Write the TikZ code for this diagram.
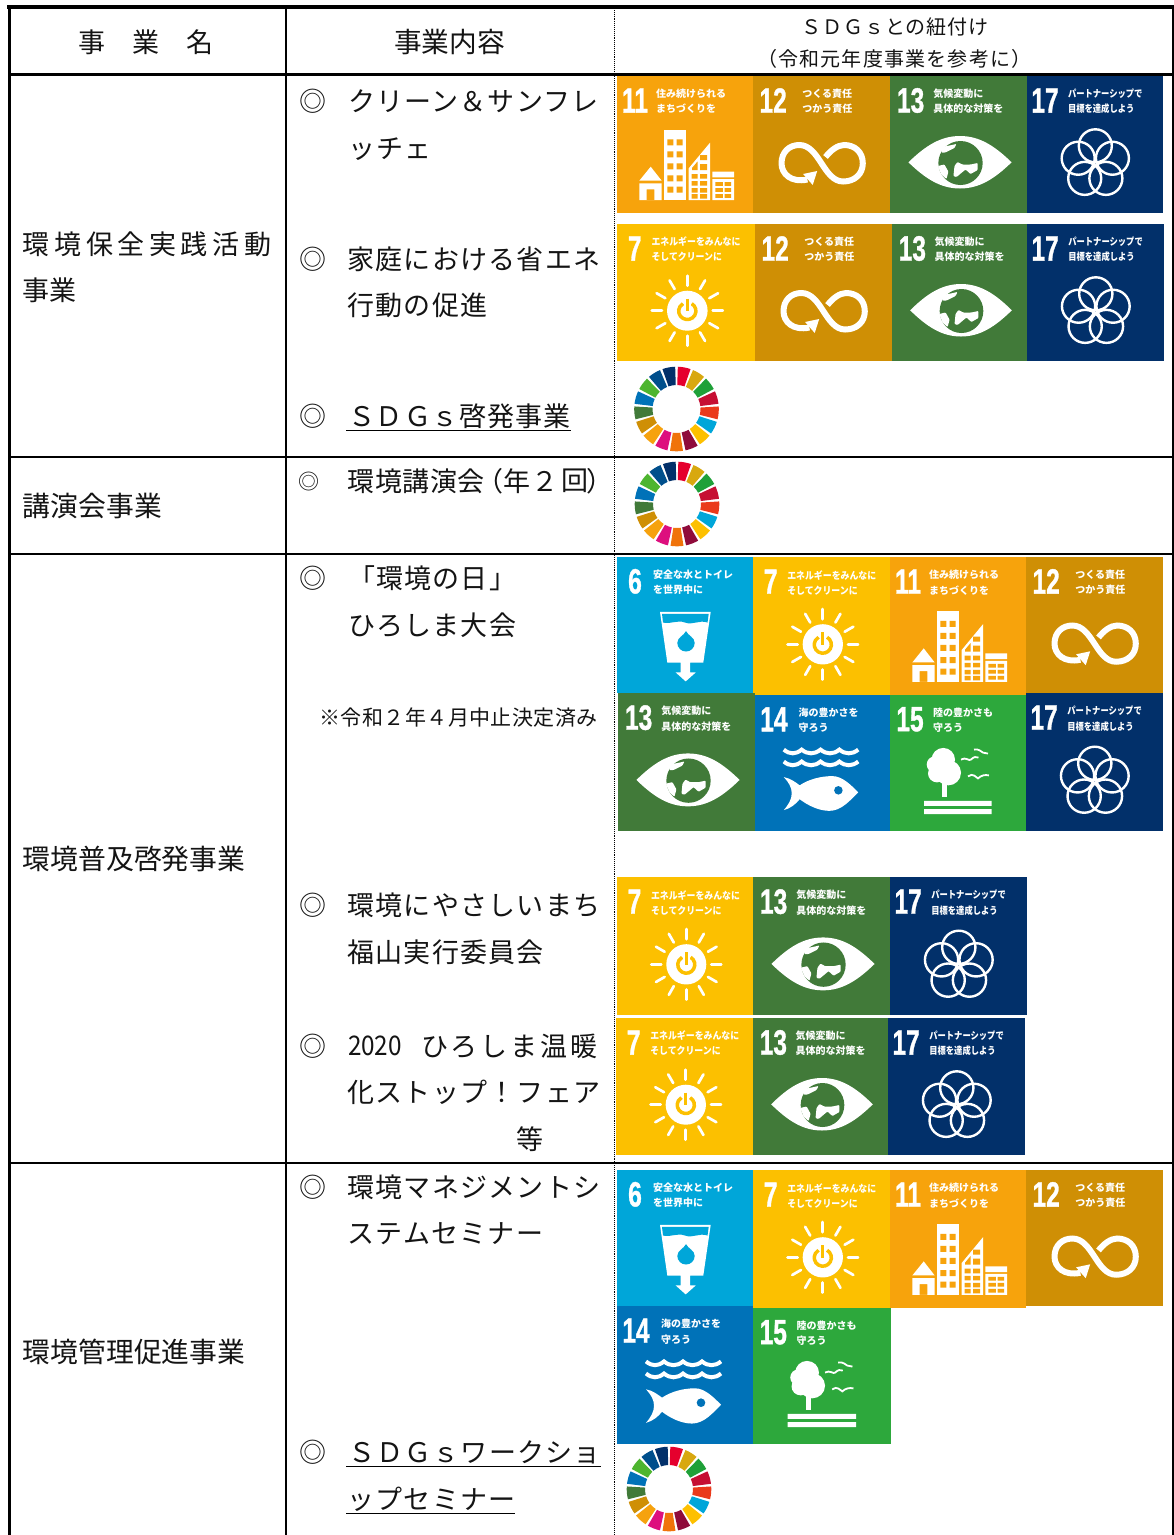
\documentclass[tikz,border=0pt]{standalone}
\usepackage{fontspec}
\usepackage{graphicx}
\newfontfamily\jp{Noto Sans CJK JP}
\newfontfamily\numf{Liberation Sans}
\definecolor{g6}{HTML}{00A6D9}
\definecolor{g7}{HTML}{FCC000}
\definecolor{g11}{HTML}{F7A30C}
\definecolor{g12}{HTML}{CF8F05}
\definecolor{g13}{HTML}{417A39}
\definecolor{g14}{HTML}{0072B8}
\definecolor{g15}{HTML}{2DA83C}
\definecolor{g17}{HTML}{02306A}
\newcounter{nn}
% body text: x, y (vertical centre), size, letter space percent, text
\newcommand\jt[5]{\stepcounter{nn}\node[txt] (t\thenn) at (#1,#2) {\fontsize{#3}{#3}\selectfont\addfontfeature{LetterSpace=#4}#5};}
\newcommand\mk[2]{\stepcounter{nn}\node[txt,anchor=center] (t\thenn) at (313,#2) {\fontsize{#1}{#1}\selectfont ◎};}
% tile header: number, centre x, two text lines, text x, xscale of the text
\newcommand\hd[6]{%
  \stepcounter{nn}\node[txt,white,anchor=center] (t\thenn) at (#2,24.5) {\fontsize{35}{35}\numf\bfseries\addfontfeature{FakeBold=1.2}\scalebox{.7}[1]{#1}};
  \stepcounter{nn}\node[txt,white] (t\thenn) at (#5,18) {\fontsize{10}{10}\selectfont\bfseries\scalebox{#6}[1]{#3}};
  \stepcounter{nn}\node[txt,white] (t\thenn) at (#5,33) {\fontsize{10}{10}\selectfont\bfseries\scalebox{#6}[1]{#4}};}
\newcommand\iconVI{\hd{6}{18}{安全な水とトイレ}{を世界中に}{36}{1}
  \fill[white] (43,55.3)--(93.7,55.3)--(86.3,106.3)--(73,106.3)--(73,116.3)--(78.7,116.3)--(68.7,125.3)--(58.7,116.3)--(63.7,116.3)--(63.7,106.3)--(50.3,106.3)--cycle;
  \fill[g6] (45,57.3)--(91.7,57.3)--(90.5,66) .. controls (82,63) and (76,69) .. (68,66) .. controls (60,63) and (54,68) .. (46,66)--cycle;
  \fill[g6] (69,74.7) .. controls (71,79) and (77.7,81) .. (77.7,86.5) arc[start angle=0,end angle=180,radius=8.7] .. controls (60.3,81) and (67,79) .. (69,74.7)--cycle;}
\newcommand\iconVII{\hd{7}{17.5}{エネルギーをみんなに}{そしてクリーンに}{34}{.89}
  \foreach \a in {0,30,...,330}{\draw[white,line width=2.7,line cap=round] (69.3,86.7)++(\a:25)--++(\a:10);}
  \fill[white] (69.3,86.7) circle[radius=20];
  \draw[g7,line width=3.5] (69.3,87)++(-60:8.5) arc[start angle=-60,end angle=240,radius=8.5];
  \draw[white,line width=6.5] (69.3,73)--(69.3,86);
  \draw[g7,line width=3.2] (69.3,74.5)--(69.3,87);}
\newcommand\iconXI{\hd{11}{18}{住み続けられる}{まちづくりを}{39}{1}
  \fill[white] (33.7,90.7)--(44.7,104.7)--(22.3,104.7)--cycle;
  \fill[white,even odd rule] (22.3,107.3) rectangle (44.7,124) (29.7,113.3) rectangle (37.3,124);
  \fill[white] (47.3,54) rectangle (69,124);
  \foreach \yy in {63.3,75.3,87.3,99.3,110.7}{\fill[g11] (50.3,\yy) rectangle +(6,6) (59.7,\yy) rectangle +(6,6);}
  \fill[white] (71.7,92.3)--(93,66.7)--(93,124)--(71.7,124)--cycle;
  \foreach \yy in {98,105,112,118}{\fill[g11] (74.5,\yy) rectangle +(6,4.5) (83,\yy) rectangle +(7,4.5);}
  \fill[g11] (83,79) rectangle +(7,5) (83,88) rectangle +(7,6) (75,92)--(80.5,85.5)--(80.5,94)--(75,94)--cycle;
  \fill[white] (95.3,95.7) rectangle (117,101.3) (95.3,103) rectangle (117,124);
  \foreach \yy in {106,112,118}{\fill[g11] (98.3,\yy) rectangle +(7.5,3.8) (107.5,\yy) rectangle +(6.5,3.8);}}
\newcommand\iconXII{\hd{12}{20}{つくる責任}{つかう責任}{49}{1}
  \draw[white,line width=6] (54,103.5) .. controls (38,107) and (28.3,98) .. (28.3,87.3) .. controls (28.3,76) and (36,69) .. (46,69) .. controls (66,69) and (70,105.5) .. (89.5,105.5) .. controls (101,105.5) and (109,98) .. (109,87.3) .. controls (109,76) and (101,69) .. (90.5,69) .. controls (84,69) and (77,74.5) .. (72,81);
  \fill[white] (63.7,95)--(49.7,98)--(59.3,109)--cycle;}
\newcommand\iconXIII{\hd{13}{20.5}{気候変動に}{具体的な対策を}{43}{1}
  \fill[white] (18.3,86.3) .. controls (35,70) and (50,60) .. (69.5,60) .. controls (89,60) and (104,70) .. (120.7,86.3) .. controls (104,102.5) and (89,112.5) .. (69.5,112.5) .. controls (50,112.5) and (35,102.5) .. (18.3,86.3)--cycle;
  \fill[g13] (70,87) circle[radius=22];
  \fill[white,rounded corners=.8] (52,71)--(66,68)--(64,72)--(55,76.5)--(51,76.5)--cycle;
  \fill[white,rounded corners=.8] (47.5,90)--(54,88.5)--(58,95.7)--(56,103)--(51,98.5)--cycle;
  \fill[white,rounded corners=.8] (64,90)--(67,86)--(71.7,88.5)--(80,88.5)--(87,87)--(87,94)--(80,98)--(75,93.5)--(66,101)--(63,100)--cycle;}
\newcommand\iconXIV{\hd{14}{19}{海の豊かさを}{守ろう}{44}{1}
  \foreach \yy in {55,67}{\draw[white,line width=4] (29,\yy) .. controls (35,\yy+5) and (41,\yy+5) .. (47,\yy) .. controls (53,\yy+5) and (60,\yy+5) .. (66,\yy) .. controls (72,\yy+5) and (79,\yy+5) .. (85,\yy) .. controls (91,\yy+5) and (98,\yy+5) .. (104,\yy);}
  \fill[white] (29,82.7) .. controls (36,84) and (41,88) .. (45,91) .. controls (54,85) and (66,81.7) .. (78,81.7) .. controls (88,81.7) and (97,91) .. (104,98) .. controls (96,106) and (87,116.7) .. (75,116.7) .. controls (64,116.7) and (53,111) .. (45,105) .. controls (41,110) and (36,114) .. (29,116) .. controls (34,110) and (37,105) .. (37,99) .. controls (37,93) and (34,88) .. (29,82.7)--cycle;
  \fill[g14] (84,96) circle[radius=4.3];}
\newcommand\iconXV{\hd{15}{20}{陸の豊かさも}{守ろう}{43}{1}
  \fill[white] (53.3,65) circle[radius=11.7] (45,70) circle[radius=8.3] (58.3,78.3) circle[radius=12.7] (47,79) circle[radius=9];
  \fill[white] (52.3,85) rectangle (57,102.3);
  \fill[white] (34,106.7) rectangle (101.7,111.7) (34,115) rectangle (101.7,120);
  \draw[white,line width=1.8] (71,65) .. controls (76,62) and (79,67) .. (81,65) .. controls (84,62) and (86,62) .. (88.5,63);
  \draw[white,line width=1.8] (84,55) .. controls (89,54) and (91,57) .. (93,58) .. controls (95,58) and (96,58) .. (98,59);
  \draw[white,line width=1.8] (78,82) .. controls (83,78) and (86,83) .. (88,84) .. controls (91,81) and (95,80) .. (99,81);}
\newcommand\iconXVII{\hd{17}{18}{パートナーシップで}{目標を達成しよう}{41}{.83}
  \foreach \a in {-90,-18,54,126,198}{\draw[white,line width=2.4] (68.3,87.8)++(\a:18) circle[radius=16.5];}}
\newcommand\tile[5]{%
  \pgfmathsetmacro\tw{(#3-#1)/136}\pgfmathsetmacro\th{(#4-#2)/137}
  \fill[g#5] (#1,#2) rectangle (#3,#4);
  \begin{scope}[shift={(#1,#2)},xscale=\tw,yscale=\th]
  \ifcase#5\or\or\or\or\or\or\iconVI\or\iconVII\or\or\or\or\iconXI\or\iconXII\or\iconXIII\or\iconXIV\or\iconXV\or\or\iconXVII\fi
  \end{scope}}
\newcommand\wheel[2]{%
  \begin{scope}[shift={(#1,#2)}]
  \foreach \c [count=\i from 0] in {E5002D,D8A80F,1FA038,C60F33,EA3A1B,00A6D9,FDC000,8F0B3B,F0730A,DD0F7E,F6A20E,CF8F05,417A39,0072B8,4DB52F,004F8C,02306A}{
    \definecolor{wc}{HTML}{\c}
    \pgfmathsetmacro\aa{-90+\i*21.176+1.8}
    \pgfmathsetmacro\bb{-90+(\i+1)*21.176-1.8}
    \fill[wc] (\aa:24)--(\aa:42.3) arc[start angle=\aa,end angle=\bb,radius=42.3]--(\bb:24) arc[start angle=\bb,end angle=\aa,radius=24]--cycle;}
  \end{scope}}
\tikzset{txt/.style={inner sep=0,outer sep=0,anchor=west,font=\jp,black!92},
  rule/.style={black,line width=2},heavy/.style={black,line width=3.6}}
\begin{document}
\begin{tikzpicture}[x=1pt,y=-1pt]
\useasboundingbox (0,0) rectangle (1174,1535);
\fill[white] (0,0) rectangle (1174,1535);
% table rules
\draw[black,line width=.9,densely dotted] (614,8)--(614,1535);
\draw[rule] (285.5,7)--(285.5,1535);
\draw[rule] (10,457)--(1174,457);
\draw[rule] (10,553.5)--(1174,553.5);
\draw[rule] (10,1162.5)--(1174,1162.5);
\draw[rule] (1173,7)--(1173,1535);
\draw[heavy] (7,7)--(1174,7);
\draw[heavy] (9,74.5)--(1174,74.5);
\draw[line width=3,black] (9,5)--(9,1535);
% header
\jt{78}{42}{27}{0}{事　業　名}
\jt{394}{42}{27.7}{0}{事業内容}
\jt{801}{27}{20}{5}{ＳＤＧｓとの紐付け}
\jt{757}{59}{20}{6}{（令和元年度事業を参考に）}
% first column
\jt{23}{244}{27}{17}{環境保全実践活動}
\jt{23}{290}{27}{0}{事業}
\jt{23}{506}{27.8}{0}{講演会事業}
\jt{23}{859}{27.8}{0}{環境普及啓発事業}
\jt{23}{1352}{27.8}{0}{環境管理促進事業}
% second column
\mk{27}{101}\jt{348}{101}{27}{4.6}{クリーン＆サンフレ}
\jt{348}{149}{27}{4.6}{ッチェ}
\mk{27}{259}\jt{347.5}{259}{27}{4.6}{家庭における省エネ}
\jt{347.5}{305}{27}{4.6}{行動の促進}
\mk{27}{416}\jt{348}{416}{27}{3.7}{ＳＤＧｓ啓発事業}
\stepcounter{nn}\node[txt,anchor=center] (t\thenn) at (309,482) {\fontsize{21}{21}\selectfont ◎};
\jt{347.5}{481}{27}{2}{環境講演会}
\jt{476}{481}{27}{0}{（}\jt{503}{481}{27}{0}{年}\jt{531.5}{481}{27}{0}{２}\jt{561}{481}{27}{0}{回}\jt{586}{481}{27}{0}{）}
\mk{27}{578}\jt{348}{578}{27}{4.6}{「環境の日」}
\jt{348}{625}{27}{4.6}{ひろしま大会}
\jt{319.5}{718}{21}{2}{※令和２年４月中止決定済み}
\mk{27}{905}\jt{347.5}{905}{27}{4.6}{環境にやさしいまち}
\jt{347.5}{952}{27}{4.6}{福山実行委員会}
\mk{27}{1046}\jt{348}{1046}{27}{0}{\scalebox{.9}[1]{2020}}\jt{421}{1046}{27}{11}{ひろしま温暖}
\jt{347.5}{1092}{27}{4.6}{化ストップ！フェア}
\jt{516}{1139}{27}{0}{等}
\mk{27}{1187}\jt{347.5}{1187}{27}{4.6}{環境マネジメントシ}
\jt{347.5}{1234}{27}{4.6}{ステムセミナー}
\mk{27}{1452}\jt{348}{1452}{27}{4.6}{ＳＤＧｓワークショ}
\jt{347.5}{1499}{27}{4.6}{ップセミナー}
\draw[black,line width=1.2] (346,430.5)--(571,430.5);
\draw[black,line width=1.2] (346,1466.5)--(601,1466.5);
\draw[black,line width=1.2] (346,1513.5)--(515,1513.5);
% tiles
\tile{617}{76}{753}{213}{11}\tile{753}{76}{890}{213}{12}\tile{890}{76}{1027}{213}{13}\tile{1027}{76}{1163}{213}{17}
\tile{617}{224}{755}{361}{7}\tile{755}{224}{892}{361}{12}\tile{892}{224}{1027}{361}{13}\tile{1027}{224}{1164}{361}{17}
\wheel{676.5}{409}
\wheel{677}{504}
\tile{617}{557}{753}{693}{6}\tile{753}{557}{890}{695}{7}\tile{890}{557}{1026}{695}{11}\tile{1026}{557}{1163}{693}{12}
\tile{618}{693}{755}{831}{13}\tile{755}{695}{890}{831}{14}\tile{890}{695}{1026}{831}{15}\tile{1026}{693}{1163}{831}{17}
\tile{617}{877}{753}{1015}{7}\tile{753}{877}{890}{1015}{13}\tile{890}{877}{1027}{1015}{17}
\tile{616}{1018}{753}{1155}{7}\tile{753}{1018}{888}{1155}{13}\tile{888}{1018}{1025}{1155}{17}
\tile{617}{1170}{753}{1306}{6}\tile{753}{1170}{890}{1308}{7}\tile{890}{1170}{1026}{1308}{11}\tile{1026}{1170}{1163}{1306}{12}
\tile{617}{1306}{753}{1444}{14}\tile{753}{1308}{891}{1444}{15}
\wheel{669}{1489}
\end{tikzpicture}
\end{document}
